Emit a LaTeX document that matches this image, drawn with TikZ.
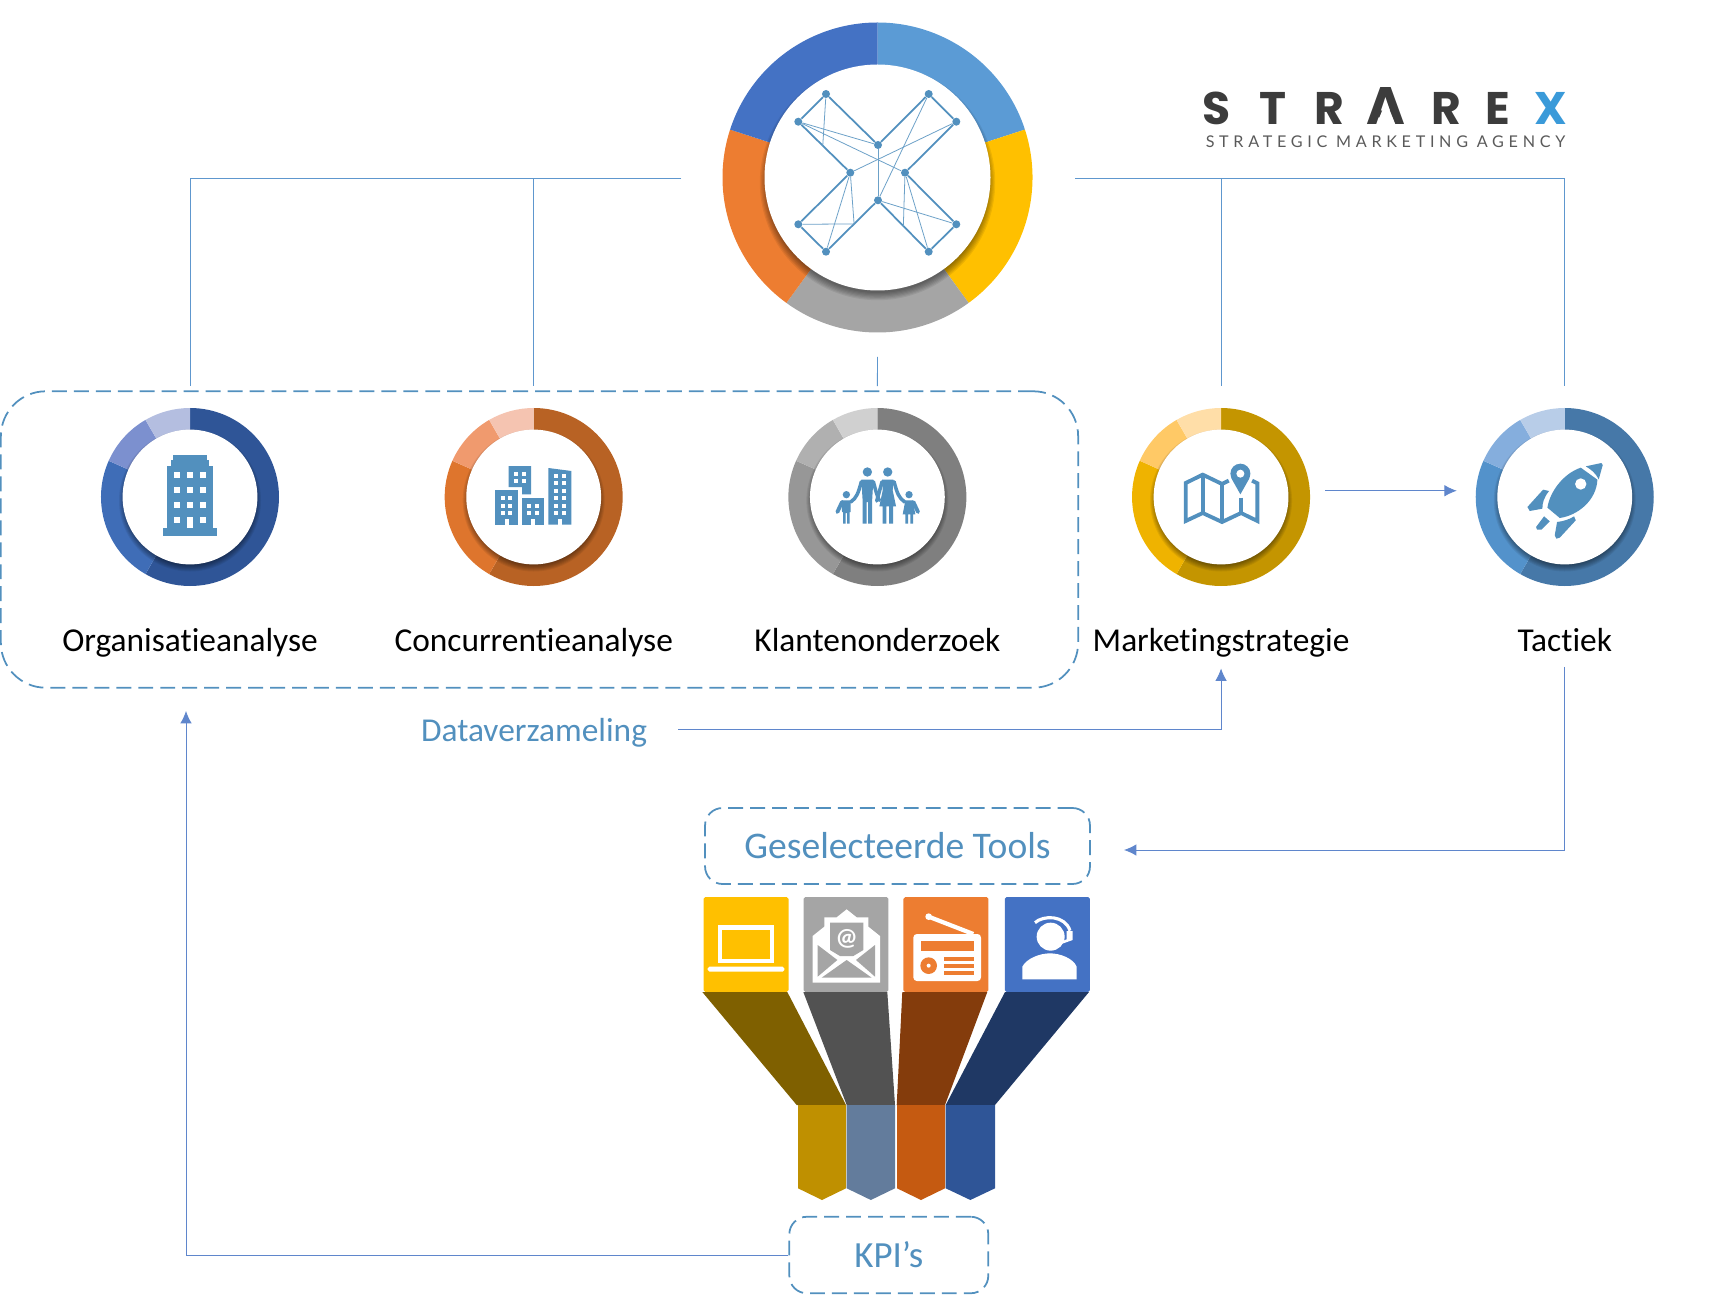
\documentclass[tikz,border=0pt]{standalone}
\usepackage{xcolor}
\usepackage{fontspec}
\usepackage{tikz}
\usetikzlibrary{positioning, arrows.meta, calc}
\setmainfont[Ligatures=NoCommon]{Carlito}
\newfontfamily\logofont{Poppins}
\newfontfamily\tagfont[LetterSpace=29]{Lato}

\definecolor{iconblue}{HTML}{5290BE}
\definecolor{linkblue}{HTML}{5F86CC}
\definecolor{skylink}{HTML}{5E97CE}

\definecolor{hubA}{HTML}{5B9BD5}
\definecolor{hubB}{HTML}{FFC000}
\definecolor{hubC}{HTML}{A5A5A5}
\definecolor{hubD}{HTML}{ED7D31}
\definecolor{hubE}{HTML}{4472C4}

\definecolor{orgA}{HTML}{2F5597}
\definecolor{orgB}{HTML}{3F6DB7}
\definecolor{orgC}{HTML}{7C90CF}
\definecolor{orgD}{HTML}{B4BEE0}
\definecolor{compA}{HTML}{B86224}
\definecolor{compB}{HTML}{DE752D}
\definecolor{compC}{HTML}{F09A6E}
\definecolor{compD}{HTML}{F5C4B1}
\definecolor{custA}{HTML}{7F7F7F}
\definecolor{custB}{HTML}{979797}
\definecolor{custC}{HTML}{B0B0B0}
\definecolor{custD}{HTML}{D0D0D0}
\definecolor{stratA}{HTML}{C49500}
\definecolor{stratB}{HTML}{EFB300}
\definecolor{stratC}{HTML}{FFC966}
\definecolor{stratD}{HTML}{FFDEA8}
\definecolor{tactA}{HTML}{4678A8}
\definecolor{tactB}{HTML}{5392CB}
\definecolor{tactC}{HTML}{85AEDD}
\definecolor{tactD}{HTML}{B8CDE8}
\definecolor{logogrey}{HTML}{3C3C3C}
\definecolor{tagrey}{HTML}{5A5A5A}
\definecolor{logocross}{HTML}{3A9AD9}

\tikzstyle{ringnode} = [circle, minimum size=3.56cm, inner sep=0pt]
\tikzstyle{input} = [coordinate]
\tikzstyle{output} = [coordinate]
\tikzstyle{ringlabel} = [font=\fontsize{19}{22}\selectfont, text=black, text height=14pt, text depth=4pt, node distance=2.92cm]
\tikzstyle{bluelabel} = [text=iconblue]
\tikzstyle{dashbox} = [draw=iconblue, line width=1pt, dash pattern=on 8.5pt off 4pt, rounded corners=0.35cm, inner sep=0pt]
\tikzstyle{tile} = [rectangle, rounded corners=1pt, minimum width=1.7cm, minimum height=1.9cm, inner sep=0pt]
\tikzstyle{link} = [skylink, line width=0.5pt]
\tikzstyle{feed} = [linkblue, line width=0.5pt, ->]
\tikzstyle{logodot} = [circle, fill=iconblue, minimum size=0.16cm, inner sep=0pt]
\tikzstyle{logoedge} = [iconblue, line width=1pt]
\tikzstyle{logothin} = [iconblue!85, line width=0.45pt]
\tikzstyle{iconframe} = [x=0.0066667cm, y=-0.0066667cm, shift={(-180,-180)}, iconblue]
\tikzstyle{tileframe} = [x=0.0066667cm, y=-0.0066667cm, white]
\tikzstyle{logoletter} = [font=\logofont\bfseries\fontsize{26}{30}\selectfont, text=logogrey, inner sep=0pt]
\newcommand{\ringseg}[5]{\fill[#1] (#2.center) -- ([shift={(#3:#5)}]#2.center) arc (#3:#4:#5) -- cycle;}

\begin{document}
\begin{tikzpicture}[auto, x=0.02cm, y=0.02cm, node distance=6.875cm, >={Latex[length=7pt,width=6.5pt]}]
    \useasboundingbox (0,0) rectangle (1733,-1300);

    % Nodes
    \node [circle, minimum size=6.2cm, inner sep=0pt] (hub) at (877.5,-177.5) {};
    \node [ringnode] (org) at (190,-497) {};
    \node [ringnode, right of=org] (comp) {};
    \node [ringnode, right of=comp] (cust) {};
    \node [ringnode, right of=cust] (strat) {};
    \node [ringnode, right of=strat] (tact) {};

    \node [ringlabel, below of=org] (orglabel) {Organisatieanalyse};
    \node [ringlabel, below of=comp] (complabel) {Concurrentieanalyse};
    \node [ringlabel, below of=cust] (custlabel) {Klantenonderzoek};
    \node [ringlabel, below of=strat] (stratlabel) {Marketingstrategie};
    \node [ringlabel, below of=tact] (tactlabel) {Tactiek};

    \node [dashbox, rounded corners=0.9cm, minimum width=21.55cm, minimum height=5.93cm] (databox) at (539.5,-539.5) {};
    \node [bluelabel, font=\fontsize{19}{22}\selectfont] (datalabel) at (534,-732.5) {Dataverzameling};
    \node [dashbox, bluelabel, font=\fontsize{21.4}{24}\selectfont, minimum width=7.7cm, minimum height=1.52cm] (tools) at (897.5,-846) {\raisebox{-2pt}{Geselecteerde Tools}};
    \node [dashbox, bluelabel, font=\fontsize{21}{24}\selectfont, minimum width=3.98cm, minimum height=1.53cm] (kpi) at (888.8,-1255) {\raisebox{-1pt}{KPI’s}};

    \node [tile, fill=hubB] (laptop) at (746,-944.5) {};
    \node [tile, fill=hubC, right of=laptop, node distance=2cm] (mail) {};
    \node [tile, fill=hubD, right of=mail, node distance=2cm] (radio) {};
    \node [tile, fill=hubE, right of=radio, node distance=2.03cm] (agent) {};

    % Connection ends
    \node [input, left of=hub, yshift=-0.01cm, node distance=3.93cm] (hubleft) {};
    \node [input, right of=hub, yshift=-0.01cm, node distance=3.96cm] (hubright) {};
    \node [input, below of=hub, node distance=3.59cm] (hubdown) {};
    \node [output, above of=org, node distance=2.22cm] (orgtop) {};
    \node [output, above of=comp, node distance=2.22cm] (comptop) {};
    \node [output, above of=cust, node distance=2.22cm] (custtop) {};
    \node [output, above of=strat, node distance=2.22cm] (strattop) {};
    \node [output, above of=tact, node distance=2.22cm] (tacttop) {};
    \node [input, right of=strat, yshift=0.125cm, node distance=2.08cm] (stratout) {};
    \node [output, left of=tact, yshift=0.125cm, node distance=2.16cm] (tactin) {};
    \node [input, below of=tact, node distance=3.4cm] (tactdown) {};
    \node [output, below of=strat, node distance=3.43cm] (stratdown) {};
    \node [input] (datastart) at (678,-729.5) {};
    \node [output] (toolsin) at (1124,-850) {};
    \node [output] (orgback) at (186,-711) {};

    % Rings
    \ringseg{hubA}{hub}{90}{18}{155}
    \ringseg{hubB}{hub}{18}{-54}{155}
    \ringseg{hubC}{hub}{-54}{-126}{155}
    \ringseg{hubD}{hub}{-126}{-198}{155}
    \ringseg{hubE}{hub}{-198}{-270}{155}
    \foreach \s in {0,...,6} {
        \fill [black, opacity=0.07] ([yshift=-0.1cm]hub.center) circle [radius=110.5+\s*1.2];
    }
    \fill [white] (hub.center) circle (113);

    \foreach \ring/\tone in {org/org, comp/comp, cust/cust, strat/strat, tact/tact} {
        \ringseg{\tone A}{\ring}{90}{-120}{89}
        \ringseg{\tone B}{\ring}{-120}{-204}{89}
        \ringseg{\tone C}{\ring}{156}{120}{89}
        \ringseg{\tone D}{\ring}{120}{90}{89}
        \foreach \s in {0,...,6} {
            \fill [black, opacity=0.07] ([yshift=-0.07cm]\ring.center) circle [radius=65+\s*1];
        }
        \fill [white] (\ring.center) circle (67.4);
    }

    % Hub logo
    \foreach \dotname/\dotx/\doty in {ula/826/94, ulb/798.3/121.7, ctop/878/145, cleft/850.3/172.7, cright/905/172.7, cbot/878/200.3,
        lla/798.3/224.3, llb/826/251.7, ura/928.7/94, urb/956.3/121.7, lra/956.3/224.3, lrb/928.7/251.7} {
        \node [logodot] (\dotname) at (\dotx,-\doty) {};
    }
    \foreach \from/\to in {ulb/ula, ula/ctop, ctop/ura, ura/urb, urb/cright, cright/lra, lra/lrb, lrb/cbot, cbot/llb, llb/lla, lla/cleft, cleft/ulb} {
        \draw [logoedge] (\from) -- (\to);
    }
    \foreach \from/\to in {ulb/ctop, ulb/cright, cleft/urb, ctop/cbot, ura/cbot, cleft/llb, cright/lrb, cbot/lra} {
        \draw [logothin] (\from) -- (\to);
    }
    \draw [logothin] (ula) -- ($(ulb)!0.47!(cleft)$);
    \draw [logothin] (cleft) -- ($(cbot)!0.46!(llb)$);
    \draw [logothin] (lla) -- ($(cbot)!0.46!(llb)$);
    \draw [logothin] (cright) -- ($(cbot)!0.5!(lrb)$);

    % Building
    \begin{scope}[shift={(org.center)}, iconframe]
        \fill (100,273) rectangle (260,296);
        \fill (112,86) rectangle (248,273);
        \fill (122,68) rectangle (238,86);
        \fill (130,55) rectangle (230,68);
        \foreach \wx in {141,180,219} {
            \foreach \wy in {113,158,203} {
                \fill [white] (\wx-9,\wy-9) rectangle (\wx+9,\wy+9);
            }
        }
        \fill [white] (132,239) rectangle (150,257);
        \fill [white] (210,239) rectangle (228,257);
        \fill [white] (172,240) rectangle (188,273);
    \end{scope}

    % City
    \begin{scope}[shift={(comp.center)}, iconframe]
        \fill (105,87) -- (172,87) -- (172,172) -- (145,172) -- (145,150) -- (105,150) -- cycle;
        \fill (65,160) rectangle (133,263);
        \fill (145,183) rectangle (212,263);
        \fill (224,93) -- (293,102) -- (293,263) -- (224,263) -- cycle;
        \foreach \wx/\wy in {127/110, 150/110, 127/132, 150/132, 87/183, 110/183, 87/206, 110/206, 87/229, 110/229,
            165/206, 190/206, 165/229, 190/229, 247/117, 270/117, 247/139, 270/139, 247/161, 270/161, 247/184, 270/184,
            247/206, 270/206, 247/229, 270/229} {
            \fill [white] (\wx-6,\wy-6) rectangle (\wx+6,\wy+6);
        }
        \fill [white] (93,247) rectangle (105,263);
        \fill [white] (172,247) rectangle (184,263);
        \fill [white] (252,247) rectangle (264,263);
    \end{scope}

    % Family
    \begin{scope}[shift={(cust.center)}, iconframe]
        \fill (150,105) circle (14);
        \fill (211,105) circle (14);
        \fill (87,173) circle (11);
        \fill (275,173) circle (11);
        \fill (132,128) -- (168,128) -- (164,195) -- (164,260) -- (152,260) -- (152,195) -- (148,195) -- (148,260) -- (136,260) -- (136,195) -- cycle;
        \fill (194,128) -- (228,128) -- (226,160) -- (236,208) -- (227,208) -- (227,260) -- (215,260) -- (215,208) -- (207,208) -- (207,260) -- (196,260) -- (196,208) -- (186,208) -- (196,160) -- cycle;
        \fill (72,190) -- (100,190) -- (100,225) -- (97,225) -- (97,260) -- (89,260) -- (89,228) -- (85,228) -- (85,260) -- (77,260) -- (77,225) -- (74,225) -- cycle;
        \fill (264,190) -- (286,190) -- (294,232) -- (287,232) -- (287,260) -- (279,260) -- (279,232) -- (272,232) -- (272,260) -- (264,260) -- (264,232) -- (256,232) -- cycle;
        \draw [line width=2pt, line cap=round] (132,134) .. controls (122,170) and (118,182) .. (100,195);
        \draw [line width=2pt, line cap=round] (168,134) .. controls (175,160) and (178,175) .. (186,190);
        \draw [line width=2pt, line cap=round] (194,134) .. controls (187,160) and (183,175) .. (178,192);
        \draw [line width=2pt, line cap=round] (230,134) .. controls (240,170) and (244,182) .. (262,195);
        \draw [line width=2.2pt, line cap=round] (74,195) -- (60,225);
        \draw [line width=2.2pt, line cap=round] (288,195) -- (302,225);
    \end{scope}

    % Map
    \begin{scope}[shift={(strat.center)}, iconframe]
        \draw [line width=2.2pt, line join=miter] (203,131) -- (183,141) -- (125,113) -- (74,138) -- (74,252) -- (125,228) -- (183,255) -- (240,228) -- (289,252) -- (289,139) -- (273,131);
        \draw [line width=2.2pt] (125,113) -- (125,228);
        \draw [line width=2.2pt] (183,141) -- (183,255);
        \draw [line width=2.2pt] (240,182) -- (240,228);
        \fill (238,110) circle (30);
        \fill (211,124) -- (265,124) -- (238,172) -- cycle;
        \fill [white] (238,110) circle (12);
    \end{scope}

    % Rocket
    \begin{scope}[shift={(tact.center)}, iconframe]
        \fill (228,92) -- (278,128) .. controls (275,190) and (220,235) .. (165,243) -- (128,212) .. controls (135,165) and (175,110) .. (228,92) -- cycle;
        \fill (243,88) -- (290,78) -- (294,84) -- (282,127) .. controls (272,108) and (260,98) .. (243,88) -- cycle;
        \fill [white] (228,141) circle (17);
        \fill (115,158) -- (133,162) .. controls (118,180) and (112,200) .. (113,215) -- (75,222) -- (68,210) -- cycle;
        \fill (208,238) -- (213,250) -- (165,302) -- (155,305) -- (150,295) -- (157,255) .. controls (175,253) and (195,247) .. (208,238) -- cycle;
        \fill (118,238) -- (135,253) -- (110,278) -- (97,278) -- (94,270) -- cycle;
    \end{scope}

    % Funnel
    \foreach \tone/\ax/\bx/\cx/\dx in {7F6000/702.3/787.3/846/796.7, 525252/803.3/887.3/895/846.7, 843C0C/902.3/987.3/945/896.7, 1F3864/1005/1089/995/945.7} {
        \definecolor{funneltone}{HTML}{\tone}
        \fill [funneltone] (\ax,-992) -- (\bx,-992) -- (\cx,-1105) -- (\dx,-1105) -- cycle;
    }
    \foreach \tone/\ax/\bx in {BF9000/798/846, 637C9C/846.7/895, C55A11/897/945, 2F5597/945.7/995} {
        \definecolor{arrowtone}{HTML}{\tone}
        \fill [arrowtone] (\ax,-1105) -- (\bx,-1105) -- (\bx,-1188.3) -- ({(\ax+\bx)/2},-1200) -- (\ax,-1188.3) -- cycle;
    }

    % Tile icons
    \begin{scope}[shift={(690,-880)}, tileframe]
        \draw [line width=2.8pt] (90,142) rectangle (246,243);
        \fill [rounded corners=1pt] (53,260) rectangle (283,275);

        \fill (368,168) -- (403,140) -- (403,112) -- (440,112) -- (470,88) -- (500,112) -- (535,112) -- (535,140) -- (570,168) -- (570,308) -- (368,308) -- cycle;
        \fill [hubC] (420,128) -- (520,128) -- (520,210) -- (490,228) -- (450,228) -- (420,210) -- cycle;
        \fill [hubC] (383,195) -- (442,240) -- (383,290) -- cycle;
        \fill [hubC] (555,195) -- (498,240) -- (555,290) -- cycle;
        \fill [hubC] (395,293) -- (470,240) -- (545,293) -- cycle;
        \node [text=white, font=\bfseries\fontsize{14}{14}\selectfont, inner sep=0pt] (atsign) at (470,176) {@};

        \fill [rounded corners=2pt] (670,162) rectangle (873,303);
        \draw [line width=2.4pt] (716,110) -- (850,162);
        \fill (716,110) circle (10);
        \fill [hubD] (692,183) rectangle (853,213);
        \fill [hubD] (716,257) circle (25);
        \fill (716,257) circle (6);
        \foreach \by in {232,253,273} {
            \fill [hubD] (762,\by) rectangle (853,\by+11);
        }

        \fill (1082,170) circle (42);
        \fill (997,298) -- (997,260) .. controls (1010,235) and (1050,220) .. (1080,220) .. controls (1110,220) and (1150,235) .. (1160,260) -- (1160,298) -- cycle;
        \draw [line width=1.8pt] (1035,128) .. controls (1060,105) and (1125,105) .. (1140,152);
        \draw [hubE, line width=3.5pt] (1134,165) -- (1134,185);
        \fill (1130,153) -- (1148,153) -- (1148,180) -- (1095,199) -- (1090,194) -- (1130,178) -- cycle;
    \end{scope}

    % Brand mark
    \foreach \ch/\chx in {S/1217, T/1273, R/1329, R/1446, E/1498} {
        \node [logoletter, anchor=base] (brand\chx) at (\chx,-125) {\ch};
    }
    \node [logoletter, font=\logofont\bfseries\fontsize{30}{30}\selectfont, anchor=base] (brandpeak) at (1386,-125) {A};
    \fill [white] (1386,-101) -- (1376,-126) -- (1396,-126) -- cycle;
    \node [logoletter, anchor=base, text=logocross] (brandcross) at (1551,-125) {X};
    \node [text=tagrey, font=\tagfont\fontsize{9.2}{11}\selectfont, inner sep=0pt] (tagline) at (1385.5,-141.5) {STRATEGIC MARKETING AGENCY};

    % Connections
    \draw [link] (hubleft) -| (orgtop);
    \draw [link] (hubleft) -| (comptop);
    \draw [link] (hubright) -| (strattop);
    \draw [link] (hubright) -| (tacttop);
    \draw [link] (hubdown) -- (custtop);
    \draw [feed] (stratout) -- (tactin);
    \draw [feed] (datastart) -| (stratdown);
    \draw [feed] (tactdown) |- (toolsin);
    \draw [feed] (kpi.west) -| (orgback);

\end{tikzpicture}
\end{document}
